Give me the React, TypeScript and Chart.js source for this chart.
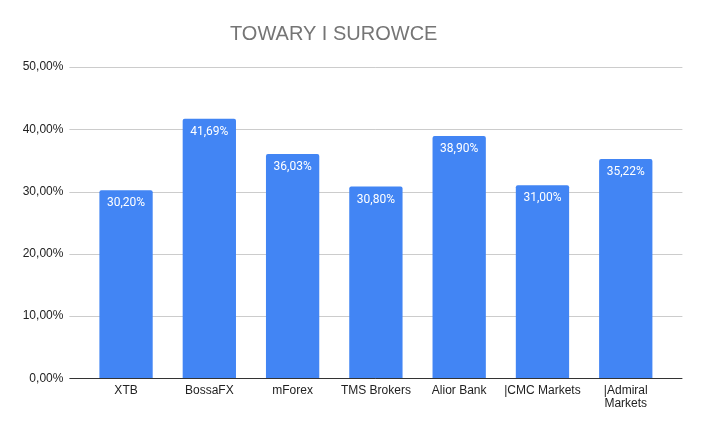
import { useEffect, useRef } from "react";
import { Chart, registerables } from "chart.js";

Chart.register(...registerables);

const categories: (string | string[])[] = [
  "XTB",
  "BossaFX",
  "mForex",
  "TMS Brokers",
  "Alior Bank",
  "|CMC Markets",
  ["|Admiral", "Markets"],
];
const shares = [30.2, 41.69, 36.03, 30.8, 38.9, 31.0, 35.22];
const yTicks = [0, 10, 20, 30, 40, 50];

const fmt = (v: number) => v.toFixed(2).replace(".", ",") + "%";
const SANS = "'Liberation Sans', Arial, sans-serif";

// gridlines in Google Sheets run a bit wider than the bars' category band
const gridPlugin = {
  id: "sheetGrid",
  beforeDatasetsDraw(chart: any) {
    const { ctx, chartArea, scales } = chart;
    const y = scales.y;
    const left = chartArea.left - 15;
    const right = chartArea.right + 15;
    ctx.save();
    ctx.lineWidth = 1;
    ctx.strokeStyle = "#cccccc";
    y.ticks.forEach((t: any) => {
      if (t.value === 0) return;
      const py = Math.round(y.getPixelForValue(t.value)) + 0.5;
      ctx.beginPath();
      ctx.moveTo(left, py);
      ctx.lineTo(right, py);
      ctx.stroke();
    });
    ctx.restore();
  },
  afterDatasetsDraw(chart: any) {
    const { ctx, chartArea, scales } = chart;
    const y = scales.y;
    const left = chartArea.left - 15;
    const right = chartArea.right + 15;
    ctx.save();
    // baseline
    const py = Math.round(y.getPixelForValue(0)) + 0.5;
    ctx.strokeStyle = "#333333";
    ctx.lineWidth = 1;
    ctx.beginPath();
    ctx.moveTo(left, py);
    ctx.lineTo(right, py);
    ctx.stroke();
    // value labels inside the bar tops
    ctx.fillStyle = "#ffffff";
    ctx.font = "12px Roboto, sans-serif";
    ctx.textAlign = "center";
    ctx.textBaseline = "middle";
    const meta = chart.getDatasetMeta(0);
    meta.data.forEach((bar: any, i: number) => {
      ctx.fillText(fmt(shares[i]), bar.x, bar.y + 13);
    });
    ctx.restore();
  },
};

export default function App() {
  const canvasRef = useRef<HTMLCanvasElement | null>(null);

  useEffect(() => {
    document.body.style.margin = "0";
    if (!canvasRef.current) return;
    const ctx = canvasRef.current.getContext("2d");
    if (!ctx) return;

    const chart = new Chart(ctx, {
      type: "bar",
      data: {
        labels: categories,
        datasets: [
          {
            data: shares,
            backgroundColor: "#4285f4",
            borderRadius: { topLeft: 2, topRight: 2, bottomLeft: 0, bottomRight: 0 },
            borderSkipped: "bottom",
            categoryPercentage: 1,
            barPercentage: 0.64,
          },
        ],
      },
      options: {
        animation: false,
        responsive: false,
        layout: { padding: { top: 0, left: 0, right: 35.6, bottom: 0 } },
        plugins: {
          legend: { display: false },
          tooltip: { enabled: false },
          title: {
            display: true,
            text: "TOWARY I SUROWCE",
            color: "#757575",
            font: { family: SANS, size: 20, weight: "normal" },
            padding: { top: 22.5, bottom: 20.5 },
          },
        },
        scales: {
          x: {
            grid: { display: false, drawTicks: false },
            border: { display: false },
            ticks: {
              color: "#222222",
              font: { family: SANS, size: 12, lineHeight: 1.15 },
              padding: 5,
              maxRotation: 0,
              autoSkip: false,
            },
            afterFit: (scale: any) => {
              scale.height = 55.7;
            },
          },
          y: {
            min: 0,
            max: 50,
            afterBuildTicks: (scale: any) => {
              scale.ticks = yTicks.map((v) => ({ value: v }));
            },
            grid: { display: false, drawTicks: false },
            border: { display: false },
            ticks: {
              color: "#222222",
              font: { family: SANS, size: 12 },
              padding: 21,
              callback: (v: any) => fmt(Number(v)),
            },
            afterFit: (scale: any) => {
              scale.width = 84.4;
            },
          },
        },
      },
      plugins: [gridPlugin],
    });

    return () => {
      chart.destroy();
    };
  }, []);

  return (
    <div style={{ width: 703, height: 434, background: "#ffffff" }}>
      <canvas ref={canvasRef} width={703} height={434} />
    </div>
  );
}
